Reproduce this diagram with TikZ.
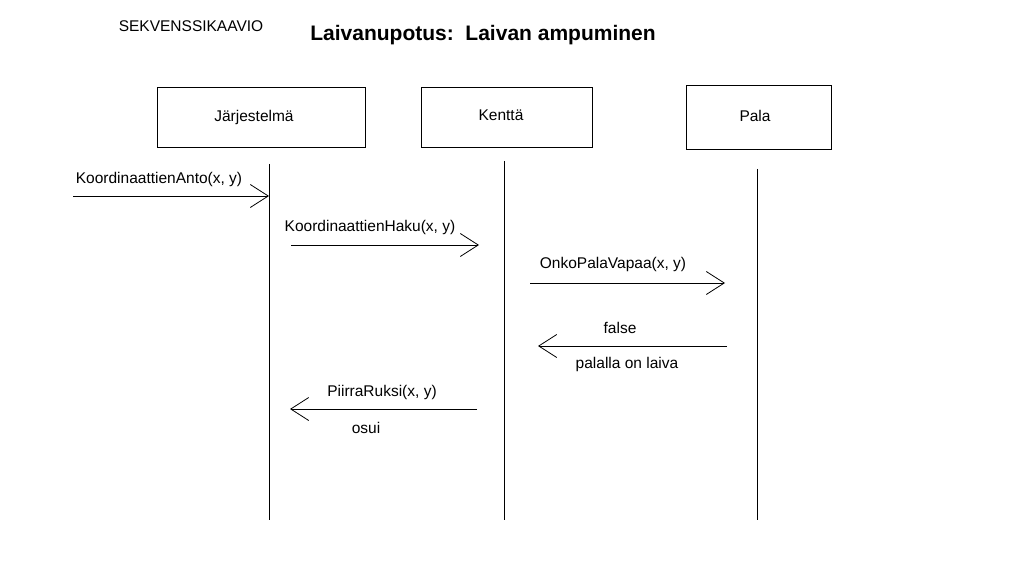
\documentclass[tikz,border=0pt]{standalone}
\usepackage{fontspec}
\setmainfont{Liberation Sans}
\usetikzlibrary{arrows.meta}
\begin{document}
\begin{tikzpicture}[x=1pt,y=-1pt,line width=0.8pt,
  olio/.style={draw,minimum width=#1,minimum height=60pt,inner sep=0pt},
  teksti/.style={font=\fontsize{15.5}{18}\selectfont,inner sep=0pt},
  viesti/.style={-{Straight Barb[length=18pt,width=23pt]}}]
\useasboundingbox (0,0) rectangle (1032,572);
\node[teksti] (otsikko0) at (191,26) {SEKVENSSIKAAVIO};
\node[font=\bfseries\fontsize{21}{24}\selectfont,inner sep=0pt] (otsikko) at (483,35) {Laivanupotus:\ \ Laivan ampuminen};

\node[olio=208pt] (jarj) at (261,117) {};
\node[teksti] at (254,117) {Järjestelmä};
\node[olio=171pt] (kentta) at (506.5,117.5) {};
\node[teksti] at (501,115) {Kenttä};
\node[olio=145pt,minimum height=64pt] (pala) at (758.5,117) {};
\node[teksti] at (755,116) {Pala};

\coordinate (j1) at (269,164);
\coordinate (j2) at (269,520);
\coordinate (k1) at (504,161);
\coordinate (k2) at (504,520);
\coordinate (p1) at (757,169);
\coordinate (p2) at (757,520);
\draw (j1) -- (j2);
\draw (k1) -- (k2);
\draw (p1) -- (p2);

\coordinate (a0) at (73,196);
\coordinate (a1) at (269,196);
\draw[viesti] (a0) -- (a1);
\node[teksti] at (159,179) {KoordinaattienAnto(x, y)};

\coordinate (b0) at (291,245);
\coordinate (b1) at (479,245);
\draw[viesti] (b0) -- (b1);
\node[teksti] at (370,227) {KoordinaattienHaku(x, y)};

\coordinate (c0) at (530,283);
\coordinate (c1) at (725,283);
\draw[viesti] (c0) -- (c1);
\node[teksti] at (613,264) {OnkoPalaVapaa(x, y)};

\coordinate (d0) at (727,346);
\coordinate (d1) at (538,346);
\draw[viesti] (d0) -- (d1);
\node[teksti] at (620,328) {false};
\node[teksti] at (627,364) {palalla on laiva};

\coordinate (e0) at (477,409);
\coordinate (e1) at (290,409);
\draw[viesti] (e0) -- (e1);
\node[teksti] at (382,392) {PiirraRuksi(x, y)};
\node[teksti] at (366,428) {osui};
\end{tikzpicture}
\end{document}
